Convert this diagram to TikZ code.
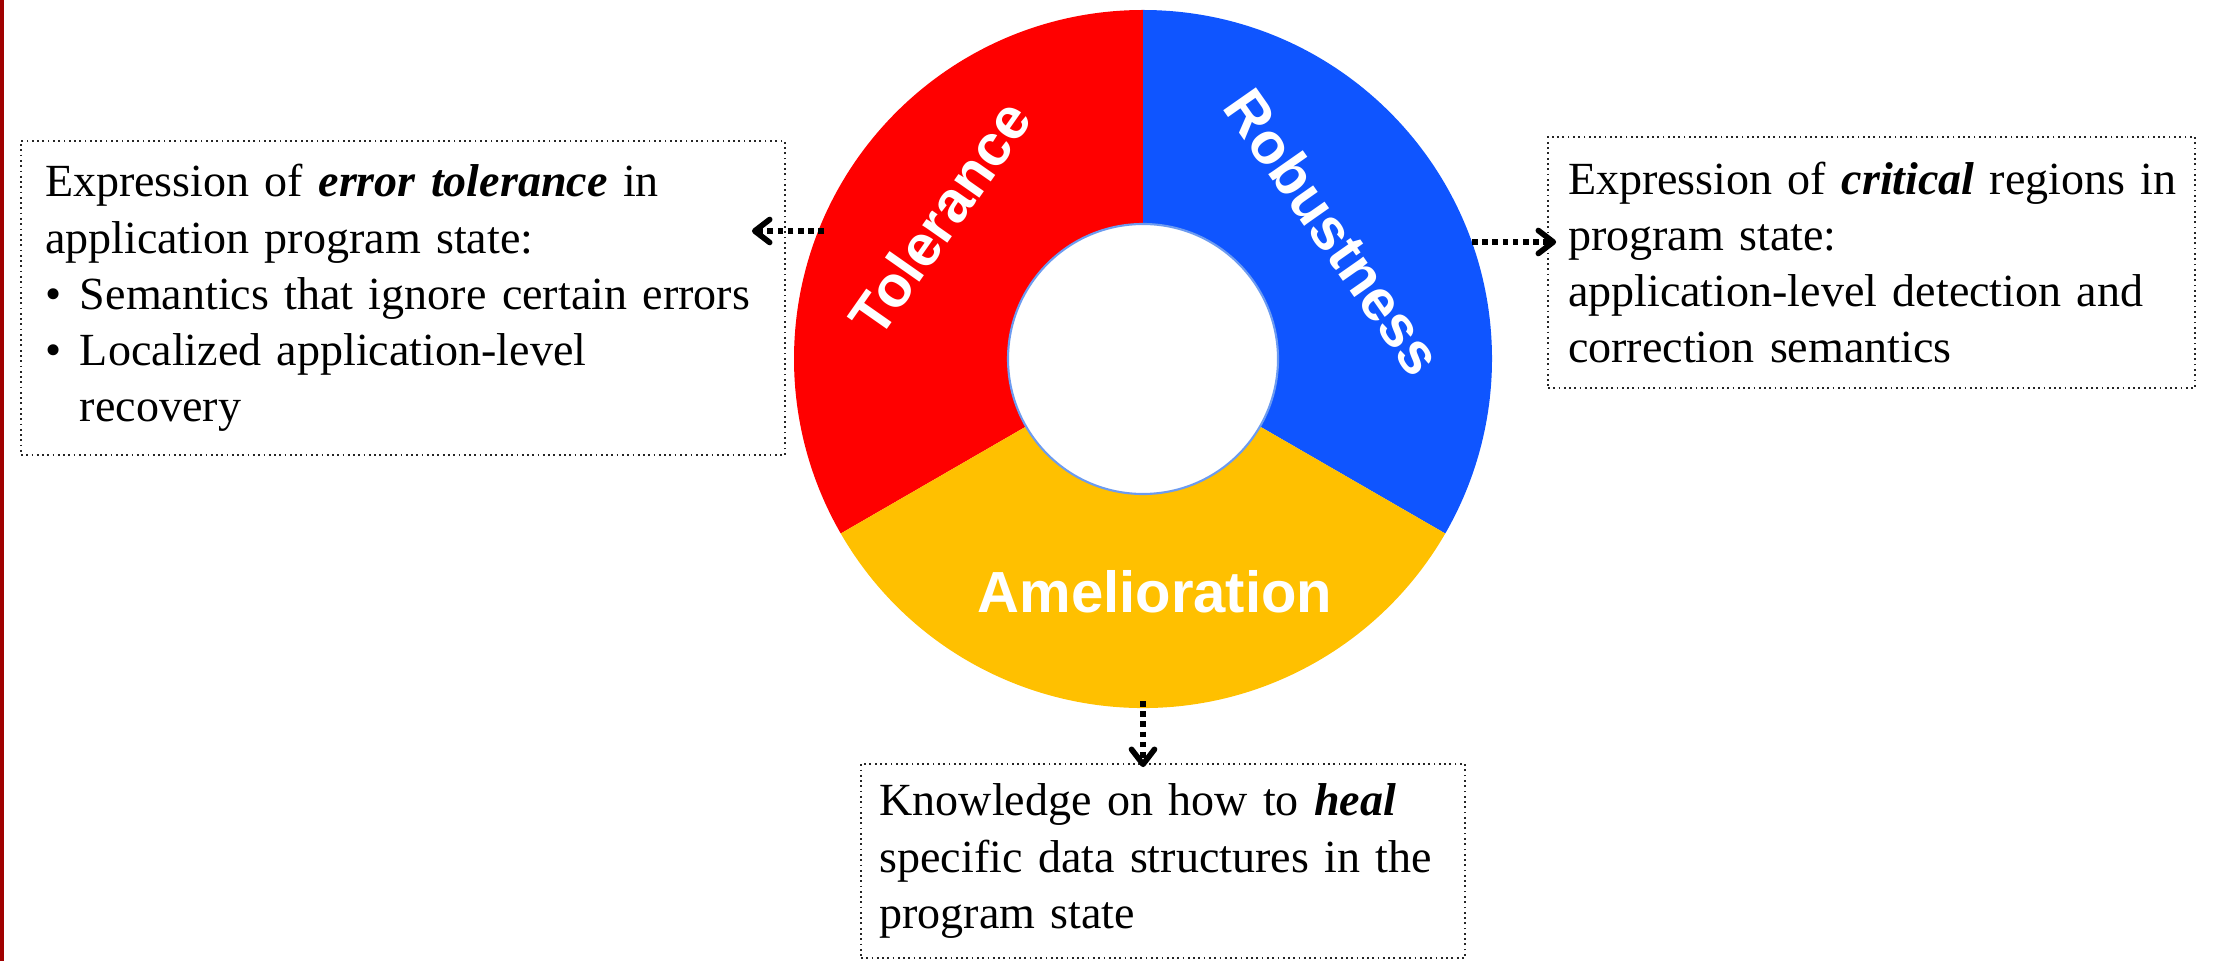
\documentclass[tikz,border=0pt]{standalone}
\usepackage{fontspec}
\setmainfont{Liberation Serif}
\newfontfamily\segfont{Liberation Sans}
\usetikzlibrary{arrows.meta}

\definecolor{tolred}{HTML}{FF0000}
\definecolor{robblue}{HTML}{0F55FF}
\definecolor{amelyellow}{HTML}{FFC000}
\definecolor{holeline}{HTML}{6C9BF0}
\definecolor{barred}{HTML}{A00000}

\begin{document}
\begin{tikzpicture}[
    infobox/.style={draw=black!85, densely dotted, line width=0.5pt,
        align=left, inner ysep=0pt, font=\fontsize{13.1}{16}\selectfont},
    seglabel/.style={text=white, font=\segfont\bfseries\fontsize{16.5}{18}\selectfont},
    linkarrow/.style={line width=1.6pt, dash pattern=on 1.6pt off 1.3pt,
        -{Straight Barb[length=1.5mm,width=2.3mm,round]}}
]

        % Размеры
        \def\W{22.35}  % ширина рисунка
        \def\H{9.61}   % высота рисунка
        \def\Rout{3.49} % внешний радиус кольца
        \def\Rin{1.35}  % внутренний радиус кольца

        \useasboundingbox (0,0) rectangle (\W,\H);

        % Полоса слева
        \fill[barred] (0,0) rectangle (0.045,\H);

        % Центр кольца
        \coordinate (c) at (11.43,6.02);

        % Сегменты кольца
        \fill[tolred] (c) -- ++(90:\Rout) arc[start angle=90, end angle=210, radius=\Rout] -- cycle;
        \fill[robblue] (c) -- ++(90:\Rout) arc[start angle=90, end angle=-30, radius=\Rout] -- cycle;
        \fill[amelyellow] (c) -- ++(210:\Rout) arc[start angle=210, end angle=330, radius=\Rout] -- cycle;

        % Отверстие
        \draw[holeline, line width=0.6pt, fill=white] (c) circle[radius=\Rin];

        % Подписи сегментов
        \node[seglabel, rotate=55] (tollabel) at (9.40,7.43) {Tolerance};
        \node[seglabel, rotate=-55] (roblabel) at (13.34,7.29) {Robustness};
        \node[seglabel] (amellabel) at (11.55,3.69) {Amelioration};

        % Пояснения
        \node[infobox, text width=7.16cm, inner xsep=0.24cm, minimum height=3.14cm] (tolbox) at (4.03,6.63) {%
            Expression of \textbf{\textit{error tolerance}} in\\
            application program state:\\
            \makebox[0.35cm][l]{\textbullet}Semantics that ignore certain errors\\
            \makebox[0.35cm][l]{\textbullet}Localized application-level\\
            \hspace*{0.35cm}recovery};

        \node[infobox, text width=6.07cm, inner xsep=0.2cm, minimum height=2.51cm] (robbox) at (18.715,6.985) {%
            \mbox{Expression of \textbf{\textit{critical}} regions in}\\
            program state:\\
            application-level detection and\\
            correction semantics};

        \node[infobox, text width=5.67cm, inner xsep=0.185cm, minimum height=1.94cm] (amelbox) at (11.63,1.00) {%
            \makebox[5.67cm][s]{Knowledge on how to \textbf{\textit{heal}}}\\
            \makebox[5.67cm][s]{specific data structures in the}\\
            program state};

        % Стрелки
        \coordinate (tolstart) at (8.24,7.30);
        \coordinate (robstart) at (14.72,7.19);
        \coordinate (amelstart) at (11.43,2.60);

        \draw[linkarrow, shorten >=-3.4mm] (tolstart) -- (tolstart -| tolbox.east);
        \draw[linkarrow, shorten >=-0.9mm] (robstart) -- (robstart -| robbox.west);
        \draw[linkarrow, shorten >=-0.4mm] (amelstart) -- (amelstart |- amelbox.north);

\end{tikzpicture}
\end{document}
